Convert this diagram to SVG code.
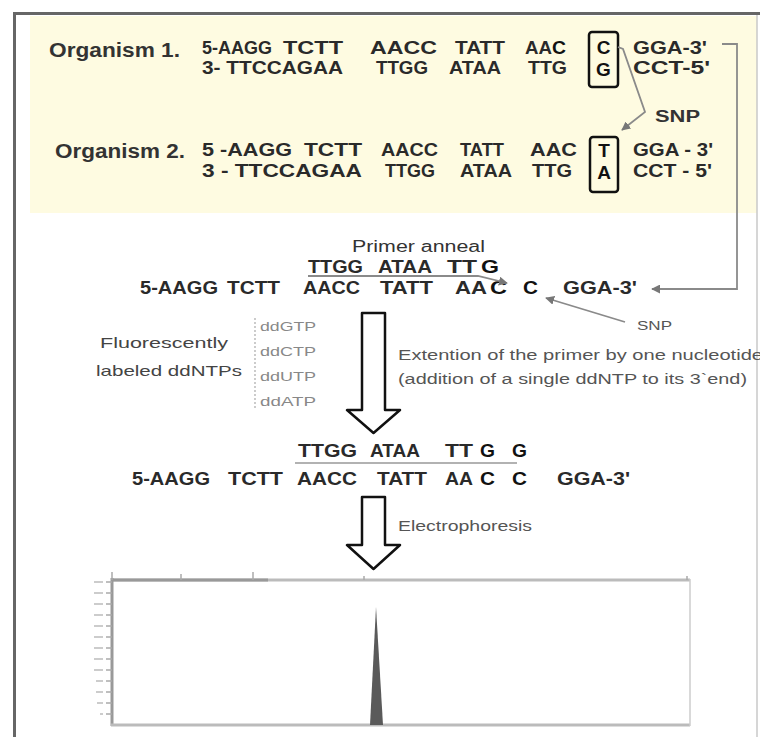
<svg xmlns="http://www.w3.org/2000/svg" width="760" height="737" viewBox="0 0 760 737">
<style>
.seq{font-family:"Liberation Sans",Arial,sans-serif;font-weight:bold;font-size:18.5px;fill:#2a2a2a}
.b{font-size:19px;fill:#111}
.lbl{font-family:"Liberation Sans",Arial,sans-serif;font-weight:bold;font-size:20px;fill:#333}
.note{font-family:"Liberation Sans",Arial,sans-serif;font-size:14px;fill:#555}
.dd{font-family:"Liberation Sans",Arial,sans-serif;font-size:12px;fill:#888}
.box{fill:none;stroke:#111;stroke-width:2.5}
.conn{fill:none;stroke:#8a8a8a;stroke-width:1.8}
.big{fill:#fff;stroke:#111;stroke-width:2.5;stroke-linejoin:round}
.tick{stroke:#aaa;stroke-width:1.5}
.tl{stroke:#ccc;stroke-width:2}
</style>
<defs>
<marker id="ah" viewBox="0 0 10 10" refX="9" refY="5" markerWidth="5" markerHeight="5" orient="auto-start-reverse">
<path d="M0,0 L10,5 L0,10 z" fill="#777"/>
</marker>
</defs>
<rect x="0" y="0" width="760" height="737" fill="#fff"/>
<rect x="30" y="16" width="727" height="197" fill="#fefbe1"/>
<line x1="14" y1="13.5" x2="760" y2="13.5" stroke="#666" stroke-width="3"/>
<line x1="14.5" y1="12" x2="14.5" y2="737" stroke="#666" stroke-width="3"/>
<line x1="757" y1="15" x2="757" y2="737" stroke="#c8c8c8" stroke-width="1.5"/>

<g id="organism1">
<text class="lbl" x="49" y="57" textLength="131" lengthAdjust="spacingAndGlyphs">Organism 1.</text>
<text class="seq" x="202" y="54" textLength="70" lengthAdjust="spacingAndGlyphs">5-AAGG</text>
<text class="seq" x="283" y="54" textLength="60" lengthAdjust="spacingAndGlyphs">TCTT</text>
<text class="seq" x="370" y="54" textLength="67" lengthAdjust="spacingAndGlyphs">AACC</text>
<text class="seq" x="455" y="54" textLength="50" lengthAdjust="spacingAndGlyphs">TATT</text>
<text class="seq" x="525" y="54" textLength="27" lengthAdjust="spacingAndGlyphs">AA</text>
<text class="seq b" x="552" y="54" textLength="14" lengthAdjust="spacingAndGlyphs">C</text>
<text class="seq b" x="603.5" y="54" text-anchor="middle">C</text>
<text class="seq" x="633" y="54" textLength="74" lengthAdjust="spacingAndGlyphs">GGA-3'</text>
<text class="seq" x="202" y="74" textLength="141" lengthAdjust="spacingAndGlyphs">3- TTCCAGAA</text>
<text class="seq" x="376" y="74" textLength="52" lengthAdjust="spacingAndGlyphs">TTGG</text>
<text class="seq" x="449" y="74" textLength="52" lengthAdjust="spacingAndGlyphs">ATAA</text>
<text class="seq" x="528" y="74" textLength="39" lengthAdjust="spacingAndGlyphs">TTG</text>
<text class="seq b" x="603.5" y="76" text-anchor="middle">G</text>
<text class="seq" x="633" y="74" textLength="77" lengthAdjust="spacingAndGlyphs">CCT-5'</text>
<rect class="box" x="589" y="32" width="29" height="55" rx="3"/>
</g>

<g id="organism2">
<text class="lbl" x="55" y="158" textLength="130" lengthAdjust="spacingAndGlyphs">Organism 2.</text>
<text class="seq" x="202" y="156" textLength="90" lengthAdjust="spacingAndGlyphs">5 -AAGG</text>
<text class="seq" x="304" y="156" textLength="58" lengthAdjust="spacingAndGlyphs">TCTT</text>
<text class="seq" x="381" y="156" textLength="57" lengthAdjust="spacingAndGlyphs">AACC</text>
<text class="seq" x="460" y="156" textLength="44" lengthAdjust="spacingAndGlyphs">TATT</text>
<text class="seq" x="530" y="156" textLength="47" lengthAdjust="spacingAndGlyphs">AAC</text>
<text class="seq b" x="604" y="157" text-anchor="middle">T</text>
<text class="seq" x="633" y="156" textLength="80" lengthAdjust="spacingAndGlyphs">GGA - 3'</text>
<text class="seq" x="202" y="177" textLength="160" lengthAdjust="spacingAndGlyphs">3 - TTCCAGAA</text>
<text class="seq" x="385" y="177" textLength="50" lengthAdjust="spacingAndGlyphs">TTGG</text>
<text class="seq" x="460" y="177" textLength="52" lengthAdjust="spacingAndGlyphs">ATAA</text>
<text class="seq" x="532" y="177" textLength="40" lengthAdjust="spacingAndGlyphs">TTG</text>
<text class="seq b" x="604" y="179" text-anchor="middle">A</text>
<text class="seq" x="633" y="177" textLength="79" lengthAdjust="spacingAndGlyphs">CCT - 5'</text>
<rect class="box" x="590" y="137" width="28" height="55" rx="3"/>
</g>

<g id="snp1">
<text class="seq" x="655" y="122" style="font-size:16px;fill:#333" textLength="45" lengthAdjust="spacingAndGlyphs">SNP</text>
</g>

<g id="primer-anneal">
<text class="note" x="352" y="252" style="fill:#333;font-size:16px" textLength="133" lengthAdjust="spacingAndGlyphs">Primer anneal</text>
<text class="seq" x="308" y="273" textLength="55" lengthAdjust="spacingAndGlyphs">TTGG</text>
<text class="seq" x="378" y="273" textLength="54" lengthAdjust="spacingAndGlyphs">ATAA</text>
<text class="seq" x="447" y="273" textLength="30" lengthAdjust="spacingAndGlyphs">TT</text>
<text class="seq b" x="481" y="273" textLength="18" lengthAdjust="spacingAndGlyphs">G</text>
<text class="seq" x="140" y="294" textLength="78" lengthAdjust="spacingAndGlyphs">5-AAGG</text>
<text class="seq" x="227" y="294" textLength="53" lengthAdjust="spacingAndGlyphs">TCTT</text>
<text class="seq" x="303" y="294" textLength="57" lengthAdjust="spacingAndGlyphs">AACC</text>
<text class="seq" x="380" y="294" textLength="53" lengthAdjust="spacingAndGlyphs">TATT</text>
<text class="seq" x="455" y="294" textLength="32" lengthAdjust="spacingAndGlyphs">AA</text>
<text class="seq b" x="490" y="294" textLength="17" lengthAdjust="spacingAndGlyphs">C</text>
<text class="seq b" x="523" y="294" textLength="15" lengthAdjust="spacingAndGlyphs">C</text>
<text class="seq" x="563" y="294" textLength="74" lengthAdjust="spacingAndGlyphs">GGA-3'</text>
</g>

<g id="ddntps">
<text class="note" x="100" y="348" style="fill:#444;font-size:15px" textLength="128" lengthAdjust="spacingAndGlyphs">Fluorescently</text>
<text class="note" x="96" y="376" style="fill:#444;font-size:15px" textLength="146" lengthAdjust="spacingAndGlyphs">labeled ddNTPs</text>
<line x1="255" y1="318" x2="255" y2="408" stroke="#aaa" stroke-width="1.2" stroke-dasharray="2 2"/>
<text class="dd" x="260" y="331" textLength="56" lengthAdjust="spacingAndGlyphs">ddGTP</text>
<text class="dd" x="260" y="356" textLength="56" lengthAdjust="spacingAndGlyphs">ddCTP</text>
<text class="dd" x="260" y="381" textLength="56" lengthAdjust="spacingAndGlyphs">ddUTP</text>
<text class="dd" x="260" y="406" textLength="56" lengthAdjust="spacingAndGlyphs">ddATP</text>
</g>

<g id="extension-step">
<path class="big" d="M362,313 H385 V410 H400 L373.5,433 L347,410 H362 Z"/>
<text class="note" x="398" y="360" textLength="365" lengthAdjust="spacingAndGlyphs">Extention of the primer by one nucleotide</text>
<text class="note" x="398" y="384" textLength="349" lengthAdjust="spacingAndGlyphs">(addition of a single ddNTP to its 3`end)</text>
</g>

<g id="extended-product">
<text class="seq" x="298" y="457" textLength="59" lengthAdjust="spacingAndGlyphs">TTGG</text>
<text class="seq" x="370" y="457" textLength="50" lengthAdjust="spacingAndGlyphs">ATAA</text>
<text class="seq" x="445" y="457" textLength="28" lengthAdjust="spacingAndGlyphs">TT</text>
<text class="seq b" x="480" y="457" textLength="15" lengthAdjust="spacingAndGlyphs">G</text>
<text class="seq b" x="512" y="457" textLength="15" lengthAdjust="spacingAndGlyphs">G</text>
<line x1="295" y1="463" x2="517" y2="463" stroke="#999" stroke-width="1.3"/>
<text class="seq" x="132" y="485" textLength="78" lengthAdjust="spacingAndGlyphs">5-AAGG</text>
<text class="seq" x="228" y="485" textLength="55" lengthAdjust="spacingAndGlyphs">TCTT</text>
<text class="seq" x="297" y="485" textLength="60" lengthAdjust="spacingAndGlyphs">AACC</text>
<text class="seq" x="377" y="485" textLength="50" lengthAdjust="spacingAndGlyphs">TATT</text>
<text class="seq" x="445" y="485" textLength="28" lengthAdjust="spacingAndGlyphs">AA</text>
<text class="seq b" x="480" y="485" textLength="15" lengthAdjust="spacingAndGlyphs">C</text>
<text class="seq b" x="512" y="485" textLength="15" lengthAdjust="spacingAndGlyphs">C</text>
<text class="seq" x="557" y="485" textLength="73" lengthAdjust="spacingAndGlyphs">GGA-3'</text>
</g>

<g id="electrophoresis-step">
<path class="big" d="M362,497 H385 V545 H400 L373.5,569 L347,545 H362 Z"/>
<text class="note" x="398" y="531" textLength="134" lengthAdjust="spacingAndGlyphs">Electrophoresis</text>
</g>

<g id="chart">
<rect x="112" y="580" width="578" height="145" fill="#fff"/>
<line x1="112" y1="580" x2="690" y2="580" stroke="#bbb" stroke-width="3"/>
<line x1="112" y1="580" x2="268" y2="580" stroke="#999" stroke-width="3"/>
<line x1="112" y1="578" x2="112" y2="726" stroke="#999" stroke-width="3"/>
<line x1="111" y1="725" x2="690" y2="725" stroke="#bbb" stroke-width="3"/>
<line x1="690" y1="579" x2="690" y2="726" stroke="#ccc" stroke-width="1.5"/>
<line class="tick" x1="112" y1="572" x2="112" y2="580"/>
<line class="tick" x1="181" y1="574" x2="181" y2="580"/>
<line class="tick" x1="253" y1="572" x2="253" y2="580"/>
<line class="tick" x1="364" y1="576" x2="364" y2="580"/>
<line class="tick" x1="687" y1="576" x2="687" y2="580"/>
<g>
<line class="tick" x1="106" y1="582" x2="112" y2="582"/><line class="tl" x1="94" y1="582" x2="103" y2="582"/>
<line class="tick" x1="106" y1="593" x2="112" y2="593"/><line class="tl" x1="94" y1="593" x2="103" y2="593"/>
<line class="tick" x1="106" y1="604" x2="112" y2="604"/><line class="tl" x1="94" y1="604" x2="103" y2="604"/>
<line class="tick" x1="106" y1="615" x2="112" y2="615"/><line class="tl" x1="94" y1="615" x2="103" y2="615"/>
<line class="tick" x1="106" y1="626" x2="112" y2="626"/><line class="tl" x1="94" y1="626" x2="103" y2="626"/>
<line class="tick" x1="106" y1="637" x2="112" y2="637"/><line class="tl" x1="94" y1="637" x2="103" y2="637"/>
<line class="tick" x1="106" y1="648" x2="112" y2="648"/><line class="tl" x1="94" y1="648" x2="103" y2="648"/>
<line class="tick" x1="106" y1="659" x2="112" y2="659"/><line class="tl" x1="94" y1="659" x2="103" y2="659"/>
<line class="tick" x1="106" y1="670" x2="112" y2="670"/><line class="tl" x1="94" y1="670" x2="103" y2="670"/>
<line class="tick" x1="106" y1="681" x2="112" y2="681"/><line class="tl" x1="96" y1="681" x2="103" y2="681"/>
<line class="tick" x1="106" y1="692" x2="112" y2="692"/><line class="tl" x1="96" y1="692" x2="103" y2="692"/>
<line class="tick" x1="106" y1="703" x2="112" y2="703"/><line class="tl" x1="97" y1="703" x2="103" y2="703"/>
<line class="tick" x1="106" y1="714" x2="112" y2="714"/><line class="tl" x1="100" y1="714" x2="103" y2="714"/>
</g>
<polygon points="370,725 376,607 383,725" fill="#5a5a5a"/>
</g>

<g id="connectors">
<polyline class="conn" points="618,47 623,49 645,112 622,130" marker-end="url(#ah)"/>
<polyline class="conn" points="722,44 737,44 737,289 652,289" marker-end="url(#ah)"/>
<polyline class="conn" points="308,276 478,276 507,283" stroke-width="1.3" marker-end="url(#ah)"/>
<line class="conn" x1="625" y1="322" x2="546" y2="298" marker-end="url(#ah)"/>
<text class="note" x="637" y="330" style="font-size:13px;fill:#555" textLength="35" lengthAdjust="spacingAndGlyphs">SNP</text>
</g>
</svg>
